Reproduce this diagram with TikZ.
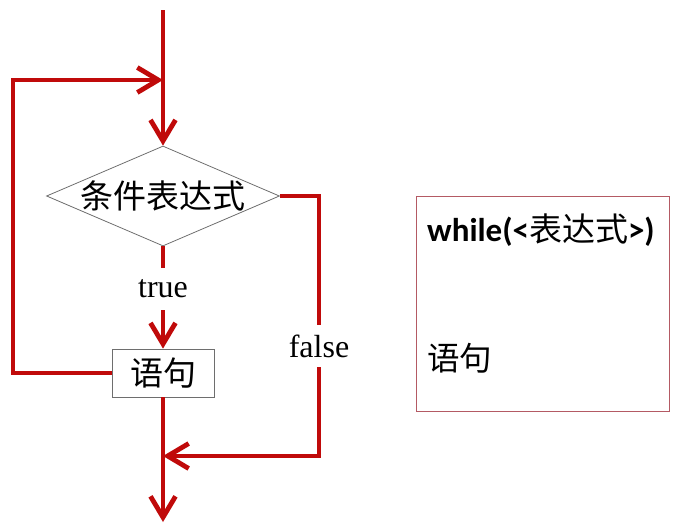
\documentclass[tikz,border=0pt]{standalone}
\usepackage{fontspec}
\setmainfont{Liberation Serif}
\newfontfamily\cjk{Noto Sans CJK SC}
\newfontfamily\carl{Carlito}
\usetikzlibrary{arrows.meta,shapes.geometric}
\definecolor{flowred}{RGB}{192,10,10}
\definecolor{boxedge}{RGB}{180,90,100}
\definecolor{thinedge}{RGB}{110,110,110}
\tikzset{
  flow/.style={draw=flowred,line width=4.8pt},
  arr/.style={flow,-{Straight Barb[length=21pt,width=25pt]}},
  lbl/.style={inner sep=0pt,font=\fontsize{32}{35}\selectfont},
  cjklbl/.style={inner sep=0pt,font=\cjk\fontsize{33}{36}\selectfont},
}
\begin{document}
\begin{tikzpicture}[x=1pt,y=-1pt]
\useasboundingbox (0,0) rectangle (681,531);
% nodes
\coordinate (top) at (163,10);
\coordinate (join) at (163,80);
\node[diamond,draw=thinedge,line width=0.8pt,minimum width=233pt,minimum height=100pt,inner sep=0pt,
      label={[cjklbl]center:条件表达式}] (cond) at (163,196) {};
\node[lbl,minimum height=42pt] (true) at (163,289) {true};
\node[draw=thinedge,line width=0.8pt,minimum width=102pt,minimum height=48pt,inner sep=0pt,
      font=\cjk\fontsize{33}{36}\selectfont] (stmt) at (163,373) {语句};
\node[lbl,minimum height=42pt] (false) at (319,346) {false};
\coordinate (merge) at (163,456);
\coordinate (out) at (163,522);
\coordinate (lc) at (13,80);
% connectors
\draw[arr] (top) -- (cond.north);
\draw[flow] (cond.south) -- (true.north);
\draw[arr] (true.south) -- (stmt.north);
\draw[arr] (stmt.west) -| (lc) -- (join);
\draw[flow] (cond.east) -| (false.north);
\draw[arr] (false.south) |- (merge);
\draw[arr] (stmt.south) -- (out);
% code box
\node[draw=boxedge,line width=0.8pt,minimum width=253pt,minimum height=215pt,inner sep=0pt] (code) at (542.5,303.5) {};
\node[anchor=west,inner sep=0pt,font=\fontsize{33}{36}\selectfont] (wl) at (427,230) {{\carl\bfseries while(<}{\cjk 表达式}{\carl\bfseries >)}};
\node[anchor=west,inner sep=0pt,font=\cjk\fontsize{32.5}{35}\selectfont] (body) at (427,358) {语句};
\end{tikzpicture}
\end{document}
